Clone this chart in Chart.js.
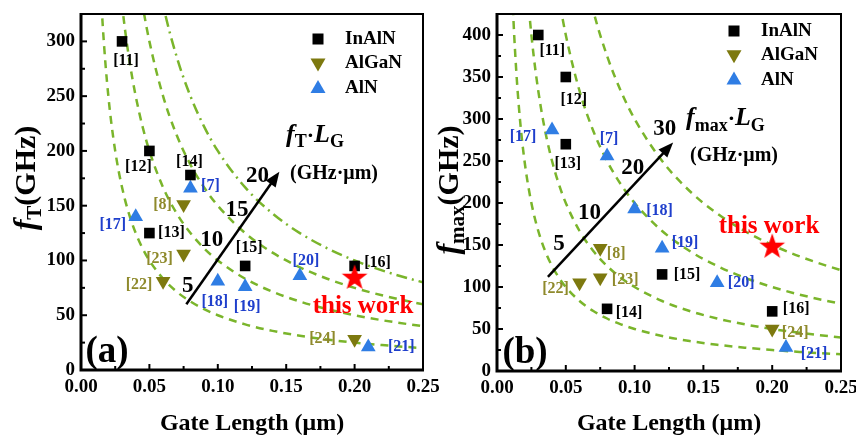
<!DOCTYPE html>
<html>
<head>
<meta charset="utf-8">
<script src="https://cdn.jsdelivr.net/npm/chart.js@4.4.1/dist/chart.umd.min.js"></script>
<style>
  html, body { margin: 0; padding: 0; background: #fff; }
  #wrap { position: relative; width: 856px; height: 438px; overflow: hidden; }
  #chartA { position: absolute; left: 0; top: 0; z-index: 2; }
  #chartB { position: absolute; left: 428px; top: 0; z-index: 1; }
</style>
</head>
<body>
<div id="wrap">
  <canvas id="chartA" width="450" height="438"></canvas>
  <canvas id="chartB" width="428" height="438"></canvas>
</div>
<script>
// ---- panel (a): fT vs gate length ----
const inalnRefA = ['[11]', '[12]', '[14]', '[13]', '[15]', '[16]'];
const inalnLgA = [0.03, 0.05, 0.08, 0.05, 0.12, 0.20];
const inalnFt = [300, 200, 178, 125, 95, 95];

const alganRefA = ['[8]', '[23]', '[22]', '[24]'];
const alganLgA = [0.075, 0.075, 0.06, 0.20];
const alganFt = [151, 106, 81, 28];

const alnRefA = ['[7]', '[17]', '[18]', '[19]', '[20]', '[21]'];
const alnLgA = [0.08, 0.04, 0.10, 0.12, 0.16, 0.21];
const alnFt = [166, 140, 81, 76, 86, 21];

const workLgA = [0.20];
const workFt = [85];

const ftLgProducts = [5, 10, 15, 20];   // GHz·µm

// ---- panel (b): fmax vs gate length ----
const inalnRefB = ['[11]', '[12]', '[13]', '[14]', '[15]', '[16]'];
const inalnLgB = [0.03, 0.05, 0.05, 0.08, 0.12, 0.20];
const inalnFmax = [400, 350, 270, 74, 115, 71];

const alganRefB = ['[8]', '[23]', '[22]', '[24]'];
const alganLgB = [0.075, 0.075, 0.06, 0.20];
const alganFmax = [146, 111, 105, 50];

const alnRefB = ['[17]', '[7]', '[18]', '[19]', '[20]', '[21]'];
const alnLgB = [0.04, 0.08, 0.10, 0.12, 0.16, 0.21];
const alnFmax = [287, 256, 193, 146, 105, 28];

const workLgB = [0.20];
const workFmax = [149];

const fmaxLgProducts = [5, 10, 20, 30];   // GHz·µm

// gate lengths where the iso-product curves are sampled
const curveLg = [0.01, 0.012, 0.014, 0.016, 0.018, 0.02, 0.022, 0.025, 0.028, 0.032, 0.036,
  0.04, 0.045, 0.05, 0.06, 0.07, 0.08, 0.09, 0.10, 0.12, 0.14, 0.16, 0.18, 0.20, 0.22, 0.25, 0.26];

const SERIF = '"Liberation Serif", "Times New Roman", serif';
const C_INALN = '#000000';
const C_ALGAN = '#7d790f';
const C_ALN = '#2f7de4';
const C_CURVE = '#7ab52b';
const L_ALGAN = '#8f8a2c';
const L_ALN = '#1f3fcc';

// label offsets (px) from each marker
const offA = {
  '[11]': [4, 19], '[12]': [-11, 16], '[14]': [-1, -13], '[13]': [22, 0], '[15]': [4, -18], '[16]': [23, -3],
  '[8]': [-21, 0], '[23]': [-24, 5], '[22]': [-24, 4], '[24]': [-32, 0],
  '[7]': [20, -2], '[17]': [-23, 8], '[18]': [-3, 21], '[19]': [2, 20], '[20]': [6, -15], '[21]': [33, 0]
};
const offB = {
  '[11]': [14, 16], '[12]': [8, 23], '[13]': [2, 20], '[14]': [22, 4], '[15]': [25, 0], '[16]': [24, -3],
  '[8]': [16, 5], '[23]': [25, 2], '[22]': [-24, 6], '[24]': [23, 4],
  '[17]': [-29, 7], '[7]': [2, -17], '[18]': [25, 2], '[19]': [23, -6], '[20]': [24, 0], '[21]': [28, 6]
};

function pts(xs, ys) { return xs.map((x, i) => ({ x: x, y: ys[i] })); }

// filled red star used as point style
const starImg = document.createElement('canvas');
starImg.width = 28; starImg.height = 28;
(function () {
  const c = starImg.getContext('2d');
  c.beginPath();
  for (let i = 0; i < 10; i++) {
    const r = i % 2 === 0 ? 13.5 : 5.4;
    const a = -Math.PI / 2 + i * Math.PI / 5;
    const px = 14 + r * Math.cos(a), py = 15 + r * Math.sin(a);
    i === 0 ? c.moveTo(px, py) : c.lineTo(px, py);
  }
  c.closePath();
  c.fillStyle = '#ff0000';
  c.fill();
})();

function curveSets(products, dashes) {
  return products.map((p, k) => ({
    data: curveLg.map(x => ({ x: x, y: p / x })),
    showLine: true,
    pointRadius: 0,
    borderColor: C_CURVE,
    borderWidth: 2.5,
    borderDash: dashes[k],
    cubicInterpolationMode: 'monotone',
    order: 10
  }));
}

function markerSets(s) {
  return [
    { data: pts(s.inLg, s.inF), pointStyle: 'rect', pointRadius: 7.5, backgroundColor: C_INALN, borderWidth: 0, order: 2 },
    { data: pts(s.gaLg, s.gaF), pointStyle: 'triangle', rotation: 180, pointRadius: 8.5, backgroundColor: C_ALGAN, borderWidth: 0, order: 2 },
    { data: pts(s.alLg, s.alF), pointStyle: 'triangle', pointRadius: 8.5, backgroundColor: C_ALN, borderWidth: 0, order: 2 },
    { data: pts(s.wLg, s.wF), pointStyle: starImg, pointRadius: 13, order: 0 }
  ];
}

function drawRich(ctx, parts, x, y) {
  let cx = x;
  parts.forEach(p => {
    ctx.font = p.font;
    ctx.fillText(p.t, cx, y + (p.dy || 0));
    cx += ctx.measureText(p.t).width;
  });
  return cx - x;
}
function richWidth(ctx, parts) {
  let w = 0;
  parts.forEach(p => { ctx.font = p.font; w += ctx.measureText(p.t).width; });
  return w;
}

const decor = {
  id: 'decor',
  afterDraw(chart, args, o) {
    const ctx = chart.ctx, a = chart.chartArea;
    const xs = chart.scales.x, ys = chart.scales.y;
    ctx.save();

    // inward ticks
    ctx.strokeStyle = '#000';
    ctx.lineWidth = 2;
    for (let i = 0; i <= 10; i++) {
      const px = xs.getPixelForValue(i * 0.025);
      const len = i % 2 === 0 ? 6 : 4;
      ctx.beginPath(); ctx.moveTo(px, a.bottom); ctx.lineTo(px, a.bottom - len); ctx.stroke();
    }
    for (let v = 0; v <= ys.max; v += 25) {
      const py = ys.getPixelForValue(v);
      const len = v % 50 === 0 ? 6 : 4;
      ctx.beginPath(); ctx.moveTo(a.left, py); ctx.lineTo(a.left + len, py); ctx.stroke();
    }

    // frame
    ctx.lineWidth = 2;
    ctx.strokeRect(a.left, a.top, a.right - a.left, a.bottom - a.top);
    ctx.lineWidth = 3;
    ctx.beginPath();
    ctx.moveTo(a.left, a.top - 1); ctx.lineTo(a.left, a.bottom); ctx.lineTo(a.right + 1, a.bottom);
    ctx.stroke();

    // reference labels
    ctx.textAlign = 'center';
    ctx.textBaseline = 'middle';
    ctx.font = 'bold 16px ' + SERIF;
    o.refs.forEach(g => {
      ctx.fillStyle = g.color;
      g.names.forEach((n, i) => {
        const d = o.offsets[n];
        ctx.fillText(n, xs.getPixelForValue(g.lg[i]) + d[0], ys.getPixelForValue(g.f[i]) + d[1]);
      });
    });

    // arrow
    const x0 = xs.getPixelForValue(o.arrow[0][0]), y0 = ys.getPixelForValue(o.arrow[0][1]);
    const x1 = xs.getPixelForValue(o.arrow[1][0]), y1 = ys.getPixelForValue(o.arrow[1][1]);
    const ang = Math.atan2(y1 - y0, x1 - x0);
    ctx.strokeStyle = '#000'; ctx.fillStyle = '#000'; ctx.lineWidth = 2.5;
    ctx.beginPath(); ctx.moveTo(x0, y0);
    ctx.lineTo(x1 - 12 * Math.cos(ang), y1 - 12 * Math.sin(ang)); ctx.stroke();
    ctx.beginPath();
    ctx.moveTo(x1, y1);
    ctx.lineTo(x1 - 15 * Math.cos(ang) + 6 * Math.sin(ang), y1 - 15 * Math.sin(ang) - 6 * Math.cos(ang));
    ctx.lineTo(x1 - 15 * Math.cos(ang) - 6 * Math.sin(ang), y1 - 15 * Math.sin(ang) + 6 * Math.cos(ang));
    ctx.closePath(); ctx.fill();

    // curve values
    ctx.font = 'bold 23px ' + SERIF;
    o.curveText.forEach(c => {
      ctx.fillText(c.t, xs.getPixelForValue(c.x), ys.getPixelForValue(c.y));
    });

    // product label
    ctx.textAlign = 'left';
    ctx.textBaseline = 'alphabetic';
    drawRich(ctx, o.product.parts, o.product.x, o.product.y);
    ctx.font = 'bold 20px ' + SERIF;
    ctx.fillText('(GHz\u00b7\u03bcm)', o.unit.x, o.unit.y);

    // legend
    const lg = o.legend;
    ['InAlN', 'AlGaN', 'AlN'].forEach((name, i) => {
      const mx = lg.x, my = lg.y + i * lg.dy;
      if (i === 0) { ctx.fillStyle = C_INALN; ctx.fillRect(mx - 5.5, my - 5.5, 11, 11); }
      if (i === 1) {
        ctx.fillStyle = C_ALGAN; ctx.beginPath();
        ctx.moveTo(mx - 7.5, my - 5); ctx.lineTo(mx + 7.5, my - 5); ctx.lineTo(mx, my + 8); ctx.closePath(); ctx.fill();
      }
      if (i === 2) {
        ctx.fillStyle = C_ALN; ctx.beginPath();
        ctx.moveTo(mx - 7.5, my + 5); ctx.lineTo(mx + 7.5, my + 5); ctx.lineTo(mx, my - 8); ctx.closePath(); ctx.fill();
      }
      ctx.fillStyle = '#000';
      ctx.font = 'bold 19px ' + SERIF;
      ctx.textBaseline = 'middle';
      ctx.fillText(name, lg.tx, my);
    });

    // this work
    ctx.textBaseline = 'alphabetic';
    ctx.textAlign = 'center';
    ctx.fillStyle = '#ff0000';
    ctx.font = 'bold 25px ' + SERIF;
    ctx.fillText('this work', o.work.x, o.work.y);

    // panel tag
    ctx.fillStyle = '#000';
    ctx.font = 'bold 37px ' + SERIF;
    ctx.fillText(o.tag.t, o.tag.x, o.tag.y);

    // x title
    ctx.font = 'bold 24px ' + SERIF;
    ctx.fillText('Gate Length (\u03bcm)', (a.left + a.right) / 2, 430);

    // y title (rotated)
    ctx.save();
    ctx.translate(o.ytitle.x, o.ytitle.y);
    ctx.rotate(-Math.PI / 2);
    ctx.textAlign = 'left';
    const w = richWidth(ctx, o.ytitle.parts);
    drawRich(ctx, o.ytitle.parts, -w / 2, 10);
    ctx.restore();

    ctx.restore();
  }
};

function makeChart(id, c) {
  const tickFont = { family: SERIF, size: 19, weight: 'bold' };
  return new Chart(document.getElementById(id), {
    type: 'scatter',
    data: { datasets: c.datasets },
    options: {
      responsive: false,
      animation: false,
      devicePixelRatio: 1,
      layout: { padding: c.pad },
      plugins: { legend: { display: false }, tooltip: { enabled: false }, decor: c.decor },
      scales: {
        x: {
          type: 'linear', min: 0, max: 0.25,
          afterFit: s => { s.height = c.xh; s.paddingLeft = 0; s.paddingRight = 0; },
          ticks: { stepSize: 0.05, padding: 6, font: tickFont, color: '#000', maxRotation: 0, autoSkip: false,
            callback: v => v.toFixed(2) },
          grid: { display: false, drawTicks: false },
          border: { display: false }
        },
        y: {
          type: 'linear', min: 0, max: c.ymax,
          afterFit: s => { s.width = c.yw; s.paddingTop = 0; s.paddingBottom = 0; },
          ticks: { stepSize: 50, padding: 6, font: tickFont, color: '#000', includeBounds: false,
            callback: v => (v % 50 === 0 ? v : '') },
          grid: { display: false, drawTicks: false },
          border: { display: false }
        }
      }
    },
    plugins: [decor]
  });
}

const sub = 'bold 18px ' + SERIF;
const ital = 'italic bold 26px ' + SERIF;

makeChart('chartA', {
  pad: { left: 0, top: 8, right: 27, bottom: 0 },
  yw: 81, xh: 68, ymax: 325,
  datasets: markerSets({ inLg: inalnLgA, inF: inalnFt, gaLg: alganLgA, gaF: alganFt, alLg: alnLgA, alF: alnFt, wLg: workLgA, wF: workFt })
    .concat(curveSets(ftLgProducts, [[8, 6], [8, 6], [8, 6], [11, 5, 2, 5]])),
  decor: {
    refs: [
      { names: inalnRefA, lg: inalnLgA, f: inalnFt, color: '#000' },
      { names: alganRefA, lg: alganLgA, f: alganFt, color: L_ALGAN },
      { names: alnRefA, lg: alnLgA, f: alnFt, color: L_ALN }
    ],
    offsets: offA,
    arrow: [[0.077, 60], [0.145, 181]],
    curveText: [{ t: '5', x: 0.078, y: 77 }, { t: '10', x: 0.0955, y: 119 }, { t: '15', x: 0.114, y: 146 }, { t: '20', x: 0.129, y: 177 }],
    product: { x: 286, y: 142, parts: [
      { t: 'f', font: ital }, { t: 'T', font: sub, dy: 5 }, { t: '\u00b7', font: 'bold 22px ' + SERIF },
      { t: 'L', font: ital }, { t: 'G', font: sub, dy: 5 }] },
    unit: { x: 290, y: 179 },
    legend: { x: 318, y: 39, dy: 24.5, tx: 345 },
    work: { x: 363, y: 313 },
    tag: { t: '(a)', x: 107, y: 362 },
    ytitle: { x: 25, y: 178, parts: [
      { t: 'f', font: 'italic bold 32px ' + SERIF }, { t: 'T', font: 'bold 21px ' + SERIF, dy: 6 },
      { t: '(GHz)', font: 'bold 30px ' + SERIF }] }
  }
});

makeChart('chartB', {
  pad: { left: 0, top: 8, right: 15, bottom: 0 },
  yw: 69, xh: 67, ymax: 425,
  datasets: markerSets({ inLg: inalnLgB, inF: inalnFmax, gaLg: alganLgB, gaF: alganFmax, alLg: alnLgB, alF: alnFmax, wLg: workLgB, wF: workFmax })
    .concat(curveSets(fmaxLgProducts, [[8, 6], [8, 6], [8, 6], [8, 6]])),
  decor: {
    refs: [
      { names: inalnRefB, lg: inalnLgB, f: inalnFmax, color: '#000' },
      { names: alganRefB, lg: alganLgB, f: alganFmax, color: L_ALGAN },
      { names: alnRefB, lg: alnLgB, f: alnFmax, color: L_ALN }
    ],
    offsets: offB,
    arrow: [[0.037, 112], [0.128, 272]],
    curveText: [{ t: '5', x: 0.045, y: 151 }, { t: '10', x: 0.0672, y: 188 }, { t: '20', x: 0.0986, y: 241 }, { t: '30', x: 0.1219, y: 288 }],
    product: { x: 258, y: 125, parts: [
      { t: 'f', font: ital }, { t: 'max', font: sub, dy: 6 }, { t: '\u00b7', font: 'bold 22px ' + SERIF },
      { t: 'L', font: ital }, { t: 'G', font: sub, dy: 6 }] },
    unit: { x: 262, y: 161 },
    legend: { x: 306, y: 31, dy: 24.3, tx: 333 },
    work: { x: 341, y: 233 },
    tag: { t: '(b)', x: 97, y: 363 },
    ytitle: { x: 20, y: 190, parts: [
      { t: 'f', font: 'italic bold 32px ' + SERIF }, { t: 'max', font: 'bold 21px ' + SERIF, dy: 6 },
      { t: '(GHz)', font: 'bold 30px ' + SERIF }] }
  }
});
</script>
</body>
</html>
